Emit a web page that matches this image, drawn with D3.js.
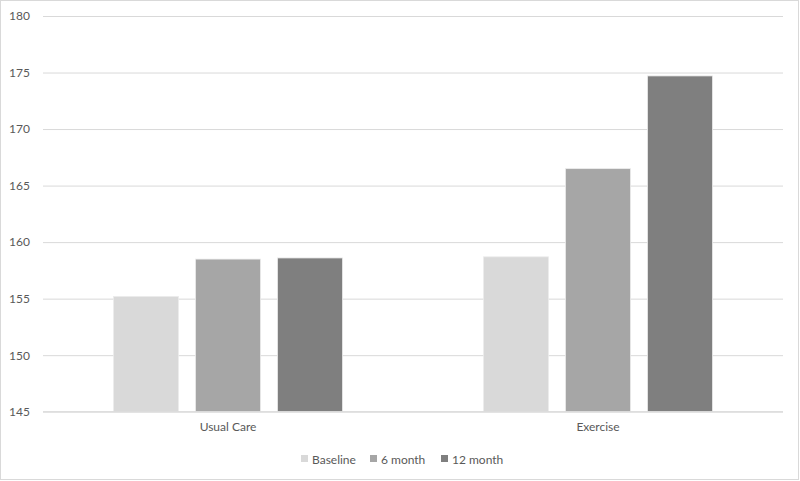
<!DOCTYPE html>
<html><head><meta charset="utf-8">
<script src="https://cdn.jsdelivr.net/npm/d3@7"></script>
<style>
body{margin:0;background:#fff;}
text{font-family:Lato,"Liberation Sans",sans-serif;fill:#595959;}
</style></head>
<body><svg id="c" width="800" height="481"></svg>
<script>
const categories = ["Usual Care", "Exercise"];
const seriesNames = ["Baseline", "6 month", "12 month"];
const baseline = [155.2, 158.7];
const month6 = [158.5, 166.5];
const month12 = [158.6, 174.7];
const yTicks = [145, 150, 155, 160, 165, 170, 175, 180];
const colors = ["#d9d9d9", "#a6a6a6", "#7f7f7f"];

const series = [baseline, month6, month12];
const svg = d3.select("#c");
const W = 800, H = 481;
svg.append("rect").attr("x",0.5).attr("y",0.5).attr("width",W-2).attr("height",H-2)
  .attr("fill","#fff").attr("stroke","#d9d9d9");

const m = {l:43, r:17, t:16, b:69};
const x0 = d3.scaleBand().domain(categories).range([m.l, W-m.r]).paddingInner(0).paddingOuter(0);
const y = d3.scaleLinear().domain([145,180]).range([411.7, 16]);

// gridlines
const grid = svg.append("g").call(d3.axisLeft(y).tickValues(yTicks).tickSize(-(W-m.r-m.l)).tickFormat(""))
  .attr("transform",`translate(${m.l},0)`);
grid.select(".domain").remove();
grid.selectAll("line").attr("stroke","#d9d9d9").attr("stroke-width",1);

// y labels
const yl = svg.append("g").attr("transform",`translate(${m.l},0)`)
  .call(d3.axisLeft(y).tickValues(yTicks).tickSize(0).tickPadding(13));
yl.select(".domain").remove();
yl.selectAll("text").style("font-size","12px").attr("fill","#595959").style("font-family","Lato");

// bars
const groupInner = 229, barW = 65, step = 82;
const x1 = d3.scaleBand().domain(seriesNames).range([0, groupInner]).paddingInner(17/82).paddingOuter(0);
categories.forEach((c, ci) => {
  const gx = x0(c) + (x0.bandwidth() - groupInner)/2;
  seriesNames.forEach((s, si) => {
    const v = series[si][ci];
    svg.append("rect")
      .attr("x", gx + x1(s)).attr("width", x1.bandwidth())
      .attr("y", y(v)).attr("height", y(145) - y(v))
      .attr("fill", colors[si]).attr("stroke","#ececec").attr("stroke-width",0.8);
  });
});

// baseline axis line
svg.append("line").attr("x1",m.l).attr("x2",W-m.r).attr("y1",y(145)).attr("y2",y(145))
  .attr("stroke","#d9d9d9");

// category labels
const xa = svg.append("g").attr("transform",`translate(0,${y(145)})`)
  .call(d3.axisBottom(x0).tickSize(0).tickPadding(11));
xa.select(".domain").remove();
xa.selectAll("text").style("font-size","12px").attr("fill","#595959").style("font-family","Lato");

// legend
const legendX = [301, 370, 441];
const lg = svg.append("g");
seriesNames.forEach((s,i)=>{
  lg.append("rect").attr("x",legendX[i]).attr("y",455).attr("width",7).attr("height",7).attr("fill",colors[i]);
  lg.append("text").attr("x",legendX[i]+11).attr("y",463.5).text(s).style("font-size","12px");
});
</script></body></html>
